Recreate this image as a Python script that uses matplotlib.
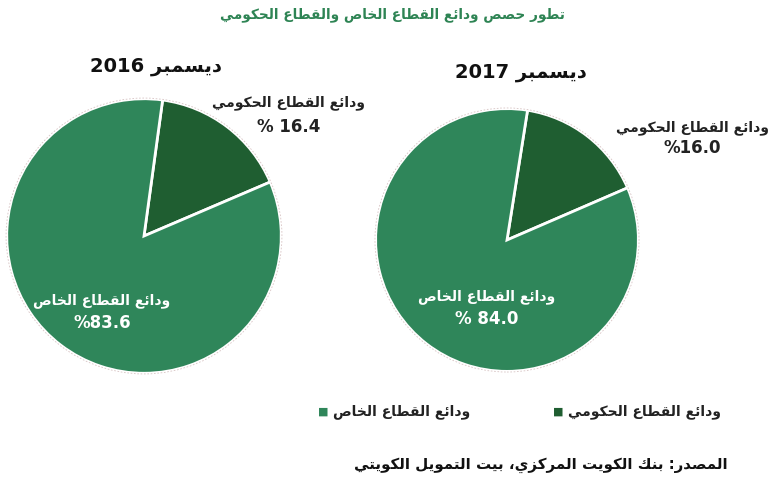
"""
Private vs government deposit shares (Dec 2016 / Dec 2017), two pie charts.
"""
import matplotlib
matplotlib.use('Agg')
import matplotlib.pyplot as plt

plt.rcParams['font.family'] = ['DejaVu Sans']

# data
years = ['2016', '2017']
gov_share = [16.4, 16.0]
private_share = [83.6, 84.0]
gov_value_labels = ['% 16.4', '%16.0']
private_value_labels = ['%83.6', '% 84.0']

TITLE = 'تطور حصص ودائع القطاع الخاص والقطاع الحكومي'
MONTH = 'ديسمبر'
GOV_NAME = 'ودائع القطاع الحكومي'
PRIV_NAME = 'ودائع القطاع الخاص'
SOURCE = 'المصدر: بنك الكويت المركزي، بيت التمويل الكويتي'

PRIV_COLOR = '#2f865a'
GOV_COLOR = '#1f5e31'
TITLE_COLOR = '#2e8454'

# --- minimal Arabic shaping (matplotlib has no complex text layout) ---
# letter: (isolated, final, initial, medial); None = does not join forward
FORMS = {
    'ا': ('\uFE8D', '\uFE8E', None, None),
    'ب': ('\uFE8F', '\uFE90', '\uFE91', '\uFE92'),
    'ت': ('\uFE95', '\uFE96', '\uFE97', '\uFE98'),
    'ح': ('\uFEA1', '\uFEA2', '\uFEA3', '\uFEA4'),
    'خ': ('\uFEA5', '\uFEA6', '\uFEA7', '\uFEA8'),
    'د': ('\uFEA9', '\uFEAA', None, None),
    'ر': ('\uFEAD', '\uFEAE', None, None),
    'ز': ('\uFEAF', '\uFEB0', None, None),
    'س': ('\uFEB1', '\uFEB2', '\uFEB3', '\uFEB4'),
    'ص': ('\uFEB9', '\uFEBA', '\uFEBB', '\uFEBC'),
    'ط': ('\uFEC1', '\uFEC2', '\uFEC3', '\uFEC4'),
    'ع': ('\uFEC9', '\uFECA', '\uFECB', '\uFECC'),
    'ق': ('\uFED5', '\uFED6', '\uFED7', '\uFED8'),
    'ك': ('\uFED9', '\uFEDA', '\uFEDB', '\uFEDC'),
    'ل': ('\uFEDD', '\uFEDE', '\uFEDF', '\uFEE0'),
    'م': ('\uFEE1', '\uFEE2', '\uFEE3', '\uFEE4'),
    'ن': ('\uFEE5', '\uFEE6', '\uFEE7', '\uFEE8'),
    'و': ('\uFEED', '\uFEEE', None, None),
    'ي': ('\uFEF1', '\uFEF2', '\uFEF3', '\uFEF4'),
    'ئ': ('\uFE89', '\uFE8A', '\uFE8B', '\uFE8C'),
}


def ar(text):
    """Shape Arabic letters and return them in visual (left-to-right) order."""
    out = []
    for i, ch in enumerate(text):
        if ch not in FORMS:
            out.append(ch)
            continue
        prev = text[i - 1] if i > 0 else ''
        nxt = text[i + 1] if i + 1 < len(text) else ''
        join_prev = prev in FORMS and FORMS[prev][2] is not None
        join_next = FORMS[ch][2] is not None and nxt in FORMS
        iso, fin, ini, med = FORMS[ch]
        if join_prev and join_next:
            out.append(med)
        elif join_prev:
            out.append(fin)
        elif join_next:
            out.append(ini)
        else:
            out.append(iso)
    return ''.join(reversed(out))


W, H = 770, 481
fig = plt.figure(figsize=(W / 100, H / 100), dpi=100)


def fx(x):
    return x / W


def fy(y):
    return 1 - y / H


# pies: (center x, center y, radius) in pixels, start angle
pie_geom = [(144, 237, 140, 82.2), (507, 241, 134, 81.0)]

for i, (cx, cy, r, start) in enumerate(pie_geom):
    ax = fig.add_axes([fx(cx - r), fy(cy + r), 2 * r / W, 2 * r / H])
    ax.pie([gov_share[i], private_share[i]], colors=[GOV_COLOR, PRIV_COLOR],
           startangle=start, counterclock=False, radius=1,
           wedgeprops=dict(edgecolor='white', linewidth=2))
    circ = plt.Circle((0, 0), 1.005, fill=False, edgecolor='#d8c4c4',
                      linewidth=0.6, linestyle=(0, (2, 2)))
    ax.add_patch(circ)
    ax.set_xlim(-1.02, 1.02)
    ax.set_ylim(-1.02, 1.02)
    ax.axis('off')

# title
fig.text(fx(565), fy(15), ar(TITLE), ha='right', va='center',
         fontsize=9.8, fontweight='bold', color=TITLE_COLOR)

# year headings
year_pos = [(156, 67), (521, 73)]
for (x, y), yr in zip(year_pos, years):
    fig.text(fx(x), fy(y), yr + ' ' + ar(MONTH), ha='center', va='center',
             fontsize=14, fontweight='bold', color='#111111')

# government labels (outside, dark text)
gov_pos = [(289, 103, 127), (692, 128, 148)]
for (x, y1, y2), val in zip(gov_pos, gov_value_labels):
    fig.text(fx(x), fy(y1), ar(GOV_NAME), ha='center', va='center',
             fontsize=10, fontweight='bold', color='#222222')
    fig.text(fx(x), fy(y2), val, ha='center', va='center',
             fontsize=12, fontweight='bold', color='#222222')

# private labels (inside, white text)
priv_pos = [(102, 301, 323), (487, 297, 319)]
for (x, y1, y2), val in zip(priv_pos, private_value_labels):
    fig.text(fx(x), fy(y1), ar(PRIV_NAME), ha='center', va='center',
             fontsize=10, fontweight='bold', color='white')
    fig.text(fx(x), fy(y2), val, ha='center', va='center',
             fontsize=12, fontweight='bold', color='white')

# legend (small square on the left of each name)
legend_items = [(GOV_NAME, GOV_COLOR, 558), (PRIV_NAME, PRIV_COLOR, 323)]
for name, col, xm in legend_items:
    fig.text(fx(xm), fy(412), '■', ha='center', va='center',
             fontsize=8, color=col)
    fig.text(fx(xm + 10), fy(412), ar(name), ha='left', va='center',
             fontsize=10, fontweight='bold', color='#222222')

# source
fig.text(fx(728), fy(465), ar(SOURCE), ha='right', va='center',
         fontsize=10.8, fontweight='bold', color='#111111')

fig.savefig('out.png', dpi=100)
